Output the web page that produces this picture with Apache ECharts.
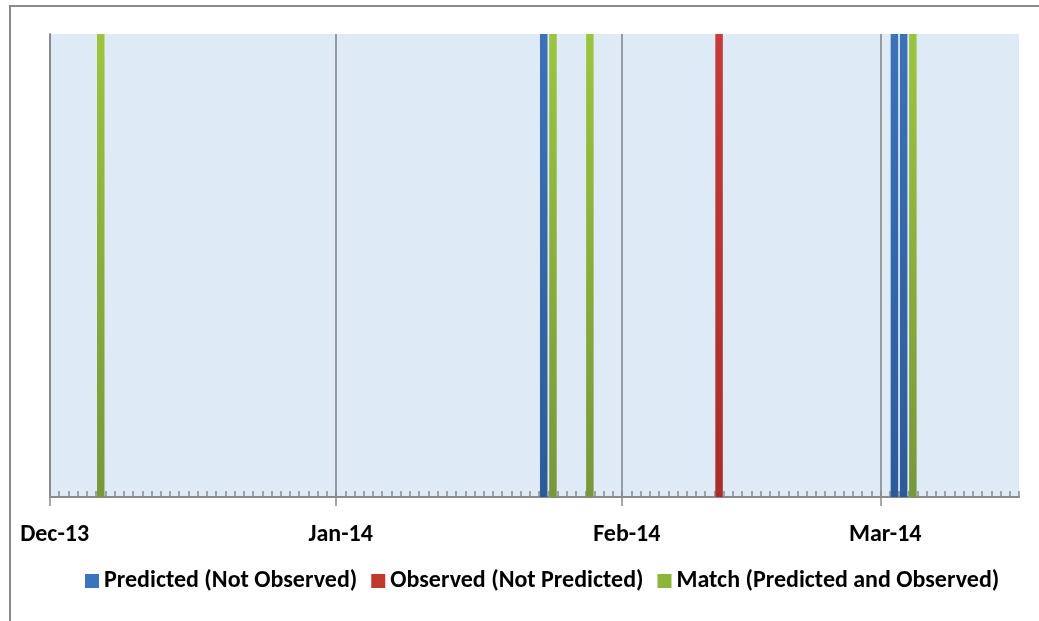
<!DOCTYPE html>
<html>
<head>
<meta charset="utf-8">
<script src="https://cdn.jsdelivr.net/npm/echarts@6/dist/echarts.min.js"></script>
<style>html,body{margin:0;padding:0;background:#fff}#c{width:1039px;height:621px}</style>
</head>
<body>
<div id="c"></div>
<script>
// ---- data ----
var startDate = '2013-12-01';
var endDate = '2014-03-15';
var monthStarts = ['2013-12-01', '2014-01-01', '2014-02-01', '2014-03-01'];
var monthLabels = ['Dec-13', 'Jan-14', 'Feb-14', 'Mar-14'];
var seriesNames = ['Predicted (Not Observed)', 'Observed (Not Predicted)', 'Match (Predicted and Observed)'];
var predictedDates = ['2014-01-23', '2014-03-02', '2014-03-03'];
var observedDates = ['2014-02-11'];
var matchDates = ['2013-12-06', '2014-01-24', '2014-01-28', '2014-03-04'];

// ---- build day categories ----
function fmt(d) {
  var m = d.getUTCMonth() + 1, dd = d.getUTCDate();
  return d.getUTCFullYear() + '-' + (m < 10 ? '0' : '') + m + '-' + (dd < 10 ? '0' : '') + dd;
}
var days = [];
for (var t = Date.parse(startDate + 'T00:00:00Z'); t <= Date.parse(endDate + 'T00:00:00Z'); t += 86400000) {
  days.push(fmt(new Date(t)));
}
// day boundaries (one more than days) for the month tick marks
var bounds = days.slice();
bounds.push(fmt(new Date(Date.parse(endDate + 'T00:00:00Z') + 86400000)));

function valuesFor(list) {
  return days.map(function (d) { return list.indexOf(d) >= 0 ? 1 : null; });
}
function isMonthStart(i) { return monthStarts.indexOf(days[i]) >= 0; }
function isMonthBound(i) { return monthStarts.indexOf(bounds[i]) >= 0; }

var FONT = "Carlito, 'Liberation Sans Narrow', Lato, sans-serif";

function grad(top, bottom) {
  return new echarts.graphic.LinearGradient(0, 0, 0, 1, [
    { offset: 0, color: top }, { offset: 1, color: bottom }
  ]);
}

var chart = echarts.init(document.getElementById('c'));
chart.setOption({
  animation: false,
  backgroundColor: '#ffffff',
  graphic: [{
    type: 'rect',
    shape: { x: 10, y: 6, width: 1200, height: 800 },
    style: { fill: 'none', stroke: '#8a8a8a', lineWidth: 2 },
    silent: true
  }],
  grid: {
    left: 50, right: 20, top: 34, bottom: 124,
    show: true, backgroundColor: '#dfeaf7', borderWidth: 0
  },
  legend: {
    bottom: 23, left: 80,
    itemWidth: 14, itemHeight: 14, itemGap: 14,
    icon: 'rect',
    textStyle: { fontFamily: FONT, fontWeight: 'bold', fontSize: 24, color: '#000' },
    data: [
      { name: seriesNames[0], itemStyle: { color: '#3a74bd' } },
      { name: seriesNames[1], itemStyle: { color: '#c0392f' } },
      { name: seriesNames[2], itemStyle: { color: '#8db53b' } }
    ]
  },
  xAxis: [{
    // daily ticks + month grid lines
    type: 'category', data: days, position: 'bottom', boundaryGap: true,
    axisLine: { show: true, lineStyle: { color: '#8a8a8a', width: 2 } },
    axisTick: { show: true, inside: true, length: 6, interval: 0, lineStyle: { color: '#8a8a8a', width: 1.5 } },
    axisLabel: { show: false },
    splitLine: { show: true, showMaxLine: false, interval: function (i) { return isMonthStart(i); }, lineStyle: { color: '#808080', width: 1.5 } }
  }, {
    // month labels, centred on the first day of each month
    type: 'category', data: days, position: 'bottom', boundaryGap: true,
    axisLine: { show: false },
    axisTick: { show: false },
    axisLabel: {
      show: true, margin: 26,
      interval: function (i) { return isMonthStart(i); },
      formatter: function (v) { var k = monthStarts.indexOf(v); return k >= 0 ? monthLabels[k] : ''; },
      fontFamily: FONT, fontWeight: 'bold', fontSize: 24, color: '#000'
    },
    splitLine: { show: false }
  }, {
    // month tick marks crossing the axis
    type: 'category', data: bounds, position: 'bottom', boundaryGap: false,
    axisLine: { show: false },
    axisTick: { show: true, inside: false, length: 9, interval: function (i) { return isMonthBound(i); }, lineStyle: { color: '#8a8a8a', width: 1.5 } },
    axisLabel: { show: false },
    splitLine: { show: false }
  }],
  yAxis: {
    type: 'value', min: 0, max: 1,
    axisLine: { show: true, lineStyle: { color: '#8a8a8a', width: 2 } },
    axisTick: { show: false }, axisLabel: { show: false }, splitLine: { show: false }
  },
  series: [{
    name: seriesNames[0], type: 'bar', stack: 'all', barWidth: 7.5,
    itemStyle: { color: grad('#3b72b8', '#2c5b99') },
    data: valuesFor(predictedDates)
  }, {
    name: seriesNames[1], type: 'bar', stack: 'all', barWidth: 7.5,
    itemStyle: { color: grad('#c63b37', '#a92d2a') },
    data: valuesFor(observedDates)
  }, {
    name: seriesNames[2], type: 'bar', stack: 'all', barWidth: 7.5,
    itemStyle: { color: grad('#9cc53e', '#77983a') },
    data: valuesFor(matchDates)
  }]
});
</script>
</body>
</html>
